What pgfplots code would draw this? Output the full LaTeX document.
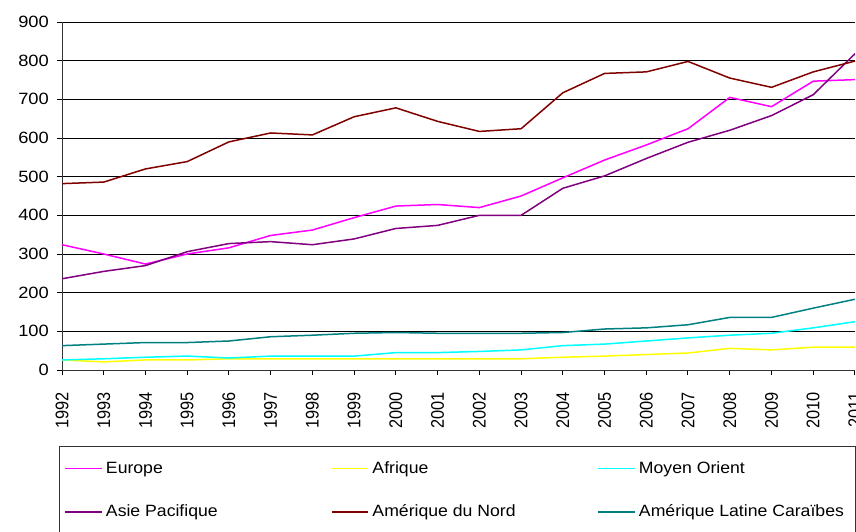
\documentclass[border=0pt]{standalone}
\usepackage{graphicx}
\usepackage{pgfplots}
\usepackage{pgfplotstable}
\pgfplotsset{compat=1.18}
\usepackage{fontspec}
\setmainfont{Liberation Sans}
\newfontfamily\widefont[FakeStretch=1.08]{Liberation Sans}
\newfontfamily\widerfont[FakeStretch=1.12]{Liberation Sans}
\definecolor{cEU}{HTML}{FF00FF}
\definecolor{cAF}{HTML}{FFFF00}
\definecolor{cMO}{HTML}{00FFFF}
\definecolor{cAP}{HTML}{800080}
\definecolor{cAN}{HTML}{800000}
\definecolor{cAL}{HTML}{008080}
\pgfplotstableread{
year eu af mo ap an al
1992 324 26 26 236 482 63
1993 300 21 29 255 486 67
1994 274 26 33 270 520 71
1995 300 26 36 306 539 71
1996 316 29 31 327 590 75
1997 348 29 36 332 613 86
1998 362 29 36 324 608 90
1999 394 29 36 339 655 95
2000 424 29 45 366 678 97
2001 428 29 45 374 643 95
2002 420 29 48 400 617 95
2003 450 29 52 400 624 95
2004 497 33 63 470 717 97
2005 543 36 67 502 767 106
2006 582 40 75 547 771 109
2007 624 44 83 589 798 117
2008 705 56 90 620 755 136
2009 681 52 95 658 731 136
2010 747 59 109 712 771 160
2011 751 59 125 818 799 183
}\datatable
\newcommand{\lw}[1]{\makebox[133pt][l]{#1}}
\newcommand{\lwl}[1]{\makebox[125pt][l]{#1}}
\begin{document}
\begin{tikzpicture}
\begin{axis}[
  scale only axis,
  width=475.8pt, height=208.8pt,
  xmin=1992, xmax=2011, ymin=0, ymax=900,
  enlargelimits=false,
  axis x line*=bottom, axis y line*=left,
  axis line style={-, black!80, line width=0.6pt},
  xtick={1992,...,2011},
  ytick={0,100,...,900},
  tick align=outside,
  major tick length=3.1pt,
  tick style={black, line width=0.6pt},
  ymajorgrids,
  grid style={black, line width=0.5pt},
  /pgf/number format/assume math mode=true,
  /pgf/number format/1000 sep={},
  yticklabel style={font=\widerfont\fontsize{9.8}{11}\selectfont, text=black, xshift=-1.3pt},
  xticklabel style={font=\fontsize{9.8}{11}\selectfont, text=black, rotate=90, anchor=east},
  xticklabel={\scalebox{1}[1.12]{\pgfmathprintnumber{\tick}}},
  xticklabel shift=6.6pt,
  legend columns=3,
  legend image code/.code={\draw[#1] (0pt,0pt) -- (22pt,0pt);},
  legend style={
    at={(-0.0038,-0.2184)}, anchor=north west,
    draw=black!80, line width=0.6pt,
    font=\widefont\fontsize{9.8}{11}\selectfont,
    inner xsep=3pt, inner ysep=7pt,
    row sep=13.4pt,
    cells={anchor=west, inner sep=1.5pt},
  },
  every axis plot/.append style={line width=0.9pt},
]
\addplot[cEU] table[x=year, y=eu] {\datatable};
\addlegendentry{\lw{Europe}}
\addplot[cAF] table[x=year, y=af] {\datatable};
\addlegendentry{\lw{Afrique}}
\addplot[cMO] table[x=year, y=mo] {\datatable};
\addlegendentry{\lwl{Moyen Orient}}
\addplot[cAP] table[x=year, y=ap] {\datatable};
\addlegendentry{\lw{Asie Pacifique}}
\addplot[cAN] table[x=year, y=an] {\datatable};
\addlegendentry{\lw{Amérique du Nord}}
\addplot[cAL] table[x=year, y=al] {\datatable};
\addlegendentry{\lwl{Amérique Latine Caraïbes}}
\end{axis}
\pgfresetboundingbox
\path (-37.2pt,-96.6pt) rectangle (476.4pt,222pt);
\end{tikzpicture}
\end{document}
